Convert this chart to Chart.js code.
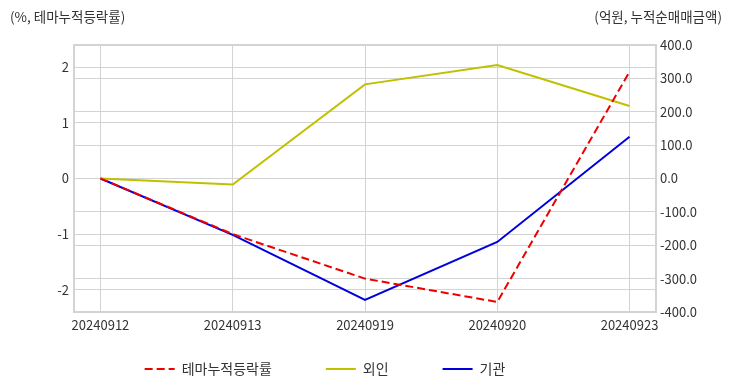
<!DOCTYPE html>
<html>
<head>
<meta charset="utf-8">
<script src="https://cdn.jsdelivr.net/npm/chart.js@4/dist/chart.umd.min.js"></script>
<style>
  body { margin: 0; background: #fff; }
  #wrap { position: relative; width: 732px; height: 392px; }
  .unit { position: absolute; top: 6px; font: 13.5px 'Noto Sans CJK KR', 'Noto Sans', sans-serif; color: #333; }
</style>
</head>
<body>
<div id="wrap">
  <canvas id="themeChart" width="732" height="392"></canvas>
  <div class="unit" style="left:10px">(%, 테마누적등락률)</div>
  <div class="unit" style="right:10px">(억원, 누적순매매금액)</div>
</div>
<script>
// dates on the x axis
const dates = ['20240912', '20240913', '20240919', '20240920', '20240923'];

// theme cumulative change, % (left axis)
const themeRate = [0, -1.0, -1.8, -2.22, 1.92];
// cumulative net buying, 억원 (right axis)
const foreign = [0, -18, 282, 340, 217];
const institution = [0, -169, -364, -190, 125];

const font = { family: "'Noto Sans CJK KR', 'Noto Sans', sans-serif", size: 13 };
const gridColor = '#d3d3d3';

const points = vals => vals.map((v, i) => ({ x: i, y: v }));

// legend is laid out below the canvas, then moved up under the x labels
const legendShift = {
  id: 'legendShift',
  afterLayout(chart) {
    const lg = chart.legend;
    lg.left -= 41; lg.right -= 41;
    lg.top -= 28; lg.bottom -= 28;
  }
};

// point style legend takes the point's style, so put the line dash back
const legendLabels = chart =>
  Chart.defaults.plugins.legend.labels.generateLabels(chart).map(l => {
    const ds = chart.data.datasets[l.datasetIndex];
    return { ...l, lineDash: ds.borderDash || [], lineWidth: 2, strokeStyle: ds.borderColor };
  });

const config = {
  type: 'line',
  data: {
    datasets: [
      {
        label: '테마누적등락률',
        data: points(themeRate),
        yAxisID: 'y',
        borderColor: '#ee0000',
        borderWidth: 2,
        borderDash: [8, 4],
        pointRadius: 0,
        tension: 0
      },
      {
        label: '외인',
        data: points(foreign),
        yAxisID: 'y1',
        borderColor: '#c0c000',
        borderWidth: 2,
        pointRadius: 0,
        tension: 0
      },
      {
        label: '기관',
        data: points(institution),
        yAxisID: 'y1',
        borderColor: '#0000dd',
        borderWidth: 2,
        pointRadius: 0,
        tension: 0
      }
    ]
  },
  options: {
    responsive: false,
    animation: false,
    layout: { padding: { top: 45, bottom: -22, left: 0, right: 0 } },
    plugins: {
      tooltip: { enabled: false },
      legend: {
        position: 'bottom',
        labels: {
          font: { family: font.family, size: 14 },
          color: '#333',
          usePointStyle: true,
          pointStyle: 'line',
          pointStyleWidth: 30,
          padding: 54,
          generateLabels: legendLabels
        }
      }
    },
    scales: {
      x: {
        type: 'linear',
        min: -0.2,
        max: 4.2,
        afterFit: s => { s.height = 24; },
        ticks: {
          stepSize: 1,
          includeBounds: false,
          padding: 5,
          font: font,
          color: '#333',
          maxRotation: 0,
          callback: v => dates[v] ?? ''
        },
        grid: { color: gridColor, drawTicks: false },
        border: { color: gridColor, width: 2 }
      },
      y: {
        position: 'left',
        min: -2.4,
        max: 2.4,
        afterFit: s => { s.width = 74; },
        ticks: { stepSize: 1, includeBounds: false, padding: 5, font: font, color: '#333' },
        grid: { color: gridColor, drawTicks: false },
        border: { color: gridColor, width: 2 }
      },
      y1: {
        position: 'right',
        min: -400,
        max: 400,
        afterFit: s => { s.width = 76; },
        ticks: { stepSize: 100, padding: 4, font: font, color: '#333', callback: v => v.toFixed(1) },
        grid: {
          color: gridColor,
          drawTicks: false,
          lineWidth: c => (c.tick && Math.abs(c.tick.value) === 400) ? 2 : 1
        },
        border: { color: gridColor, width: 2 }
      }
    }
  },
  plugins: [legendShift]
};

const myChart = new Chart(document.getElementById('themeChart'), config);
</script>
</body>
</html>
